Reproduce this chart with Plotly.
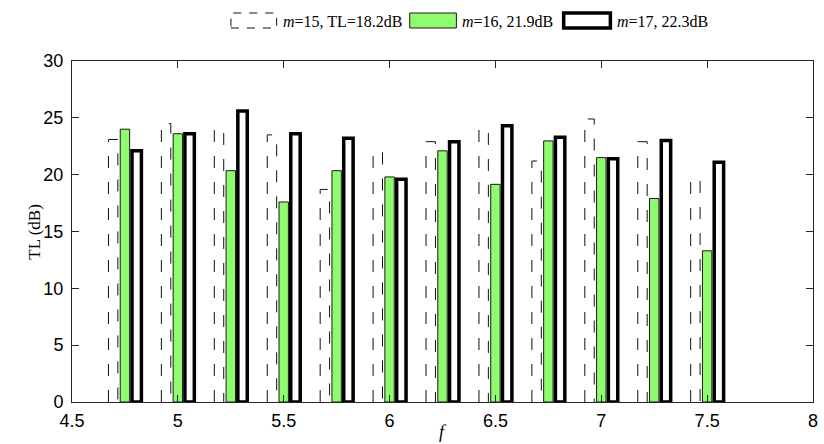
import plotly.graph_objects as go

# ---------------- data ----------------
freqs = [4.75, 5.0, 5.25, 5.5, 5.75, 6.0, 6.25, 6.5, 6.75, 7.0, 7.25, 7.5]
tl_m15 = [23.1, 24.5, 24.0, 23.5, 18.7, 22.0, 22.9, 24.0, 21.2, 24.9, 22.9, 19.6]
tl_m16 = [24.0, 23.6, 20.35, 17.6, 20.35, 19.8, 22.1, 19.15, 22.97, 21.5, 17.9, 13.3]
tl_m17 = [22.1, 23.6, 25.6, 23.6, 23.2, 19.6, 22.9, 24.3, 23.3, 21.4, 23.0, 21.1]
legend_labels = ["<i>m</i>=15, TL=18.2dB", "<i>m</i>=16, 21.9dB", "<i>m</i>=17, 22.3dB"]
x_ticks = [4.5, 5, 5.5, 6, 6.5, 7, 7.5, 8]
x_ticklabels = ["4.5", "5", "5.5", "6", "6.5", "7", "7.5", "8"]
y_ticks = [0, 5, 10, 15, 20, 25, 30]

# ---------------- styles ----------------
GREEN = "#8EFC6E"
AXC = "#262626"
spacing = 0.25
slot = spacing * (2.0 / 3.0) / 3.0
bw = 0.8 * slot
DASH = "12px,14px"

fig = go.Figure()

# dashed outline bars (m=15)
px, py = [], []
for f, v in zip(freqs, tl_m15):
    x0 = f - slot - bw / 2
    x1 = f - slot + bw / 2
    px += [x0, x0, x1, x1, None]
    py += [0, v, v, 0, None]
fig.add_trace(go.Scatter(x=px, y=py, mode="lines",
                         line=dict(color="#111111", width=1, dash=DASH),
                         showlegend=False, hoverinfo="skip"))

# green bars (m=16)
fig.add_trace(go.Bar(x=freqs, y=tl_m16, width=bw, offset=-bw / 2,
                     marker=dict(color=GREEN, line=dict(color="#1a1a1a", width=1)),
                     showlegend=False))

# thick black outline bars (m=17)
fig.add_trace(go.Bar(x=freqs, y=tl_m17, width=bw, offset=slot - bw / 2,
                     marker=dict(color="white", line=dict(color="black", width=3.5)),
                     showlegend=False))

# ---------------- layout ----------------
L, R, T, B = 72, 6, 61, 42
W, H = 824, 444
pw, ph = W - L - R, H - T - B


def xp(pxv):
    return (pxv - L) / pw


def yp(pyv):
    return (H - B - pyv) / ph


axis_common = dict(showline=True, linecolor=AXC, linewidth=1, mirror="ticks",
                   ticks="inside", ticklen=7, tickwidth=1, tickcolor=AXC,
                   showgrid=False, zeroline=False,
                   tickfont=dict(family="Liberation Sans, Arial", size=18, color="black"))

fig.update_layout(
    width=W, height=H,
    margin=dict(l=L, r=R, t=T, b=B),
    paper_bgcolor="white", plot_bgcolor="white",
    barmode="overlay",
    xaxis=dict(range=[4.5, 8], tickvals=x_ticks, ticktext=x_ticklabels,
               ticklabelstandoff=2, **axis_common),
    yaxis=dict(range=[0, 30], tickvals=y_ticks, ticklabelstandoff=4, **axis_common),
    showlegend=False,
)

# axis titles
fig.add_annotation(text="TL (dB)", xref="paper", yref="paper", x=xp(34), y=0.5,
                   textangle=-90, showarrow=False, xanchor="center", yanchor="middle",
                   font=dict(family="Liberation Serif, Times New Roman", size=17, color="black"))
fig.add_annotation(text="<i>f</i>", xref="paper", yref="paper", x=0.5, y=yp(432),
                   showarrow=False, xanchor="center", yanchor="middle",
                   font=dict(family="Liberation Serif, Times New Roman", size=18, color="black"))

# custom legend
ly0, ly1 = yp(28), yp(13)
lyc = yp(21)
boxes = [(232, 278), (412, 459), (567, 614)]
text_x = [282, 463, 619]
fig.add_shape(type="rect", xref="paper", yref="paper", x0=xp(boxes[0][0]), x1=xp(boxes[0][1]),
              y0=ly0, y1=ly1, line=dict(color="#111111", width=1, dash="8px,8px"),
              fillcolor="rgba(0,0,0,0)")
fig.add_shape(type="rect", xref="paper", yref="paper", x0=xp(boxes[1][0]), x1=xp(boxes[1][1]),
              y0=ly0, y1=ly1, line=dict(color="#1a1a1a", width=1), fillcolor=GREEN)
fig.add_shape(type="rect", xref="paper", yref="paper", x0=xp(boxes[2][0]), x1=xp(boxes[2][1]),
              y0=ly0, y1=ly1, line=dict(color="black", width=3.5), fillcolor="white")
for tx, lab in zip(text_x, legend_labels):
    fig.add_annotation(text=lab, xref="paper", yref="paper", x=xp(tx), y=lyc,
                       showarrow=False, xanchor="left", yanchor="middle",
                       font=dict(family="Liberation Serif, Times New Roman", size=16, color="black"))

fig.write_html("out.html")
